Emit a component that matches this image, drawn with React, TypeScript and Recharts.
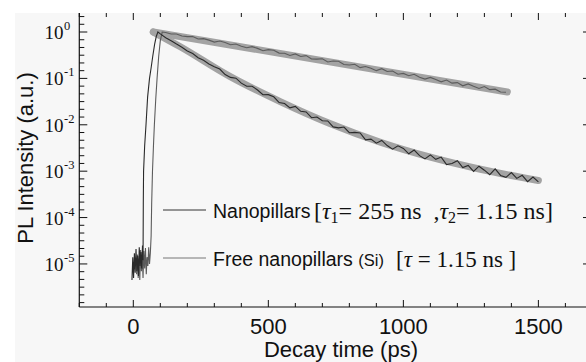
import React from "react";
import { LineChart, Line, XAxis, YAxis } from "recharts";

// Nanopillars (dark trace): rise + bi-exponential decay
const nanoTime = [
  -5, -2, 1, 4, 7, 10, 13, 16, 19, 22, 25, 28, 31, 34, 36, 37, 38, 42, 47, 53, 60, 66, 72, 79, 85, 91,
  100, 120, 140, 160, 180, 200, 220, 240, 260, 280, 300, 320, 340, 360, 380, 400, 420, 440, 460, 480,
  500, 520, 540, 560, 580, 600, 620, 640, 660, 680, 700, 720, 740, 760, 780, 800, 820, 840, 860, 880,
  900, 920, 940, 960, 980, 1000, 1020, 1040, 1060, 1080, 1100, 1120, 1140, 1160, 1180, 1200, 1220,
  1240, 1260, 1280, 1300, 1320, 1340, 1360, 1380, 1400, 1420, 1440, 1460, 1480, 1500,
];
const nanoIntensity = [
  4.5e-6, 1.4e-5, 5e-6, 1.7e-5, 6.5e-6, 2.1e-5, 7e-6, 1.5e-5, 5.5e-6, 2.3e-5, 9e-6, 1.8e-5, 8e-6, 2.5e-5,
  1.2e-5, 2e-4, 1e-3, 3.5e-3, 1e-2, 0.04, 0.1, 0.17, 0.3, 0.55, 0.8, 1.0,
  0.91, 0.75, 0.65, 0.55, 0.47, 0.39, 0.345, 0.28, 0.245, 0.205,
  0.179, 0.159, 0.121, 0.105, 0.101, 0.0789, 0.0676, 0.0675, 0.0563, 0.0445,
  0.0446, 0.0402, 0.0302, 0.0288, 0.0232, 0.0249, 0.0195, 0.0189, 0.0142, 0.0147,
  0.0122, 0.0121, 0.009, 0.00857, 0.00894, 0.00674, 0.00687, 0.00668, 0.00473, 0.0049,
  0.00402, 0.0046, 0.00357, 0.00298, 0.00352, 0.0031, 0.00237, 0.00286, 0.00216, 0.00184,
  0.00224, 0.0018, 0.00201, 0.00139, 0.00146, 0.00168, 0.0012, 0.00133, 0.000988, 0.00128,
  0.00105, 0.00084, 0.00112, 0.00081, 0.000737, 0.000935, 0.000698, 0.000815, 0.000595, 0.000748,
  0.000587,
];

// Free nanopillars (Si) (grey trace): rise + single exponential decay
const freeTime = [
  12, 15, 18, 21, 24, 27, 30, 33, 36, 39, 42, 45, 48, 51, 54, 57, 60, 63, 66, 68, 71, 75, 78, 83, 88,
  94, 100, 107,
  120, 140, 160, 180, 200, 220, 240, 260, 280, 300, 320, 340, 360, 380, 400, 420, 440, 460, 480, 500,
  520, 540, 560, 580, 600, 620, 640, 660, 680, 700, 720, 740, 760, 780, 800, 820, 840, 860, 880, 900,
  920, 940, 960, 980, 1000, 1020, 1040, 1060, 1080, 1100, 1120, 1140, 1160, 1180, 1200, 1220, 1240,
  1260, 1280, 1300, 1320, 1340, 1360, 1380,
];
const freeIntensity = [
  6e-6, 1.6e-5, 5e-6, 1.3e-5, 4.5e-6, 2e-5, 7e-6, 1.5e-5, 5e-6, 1.9e-5, 8e-6, 2.2e-5, 6e-6, 1.4e-5,
  9e-6, 2.3e-5, 1e-5, 1.7e-5, 4e-5, 2e-4, 1e-3, 4e-3, 1e-2, 0.035, 0.1, 0.3, 0.65, 1.0,
  0.98, 0.908, 0.909, 0.818, 0.797, 0.8, 0.705, 0.721, 0.668, 0.606, 0.641, 0.594, 0.533, 0.551,
  0.491, 0.459, 0.484, 0.444, 0.395, 0.417, 0.406, 0.351, 0.348, 0.313, 0.337, 0.297, 0.31, 0.262,
  0.261, 0.265, 0.226, 0.237, 0.234, 0.199, 0.194, 0.202, 0.171, 0.18, 0.166, 0.147, 0.162, 0.141,
  0.144, 0.123, 0.128, 0.114, 0.123, 0.106, 0.0967, 0.105, 0.0948, 0.0843, 0.0923, 0.0791, 0.0811,
  0.0692, 0.0761, 0.0677, 0.0607, 0.0668, 0.0572, 0.0586, 0.0509, 0.0502,
];

// fitted curves
const nanoFitTime = [74, 174, 359, 544, 730, 915, 1100, 1285, 1500];
const nanoFitIntensity = [1.0, 0.48, 0.109, 0.0316, 0.0105, 0.0042, 0.002, 0.0011, 0.00063];
const freeFitTime = [74, 1385];
const freeFitIntensity = [1.0, 0.051];

const xTicks = [-200, -100, 0, 100, 200, 300, 400, 500, 600, 700, 800, 900, 1000, 1100, 1200, 1300, 1400, 1500, 1600];
const xLabels = [0, 500, 1000, 1500];
const yExponents = [0, -1, -2, -3, -4, -5];

const PLOT_TOP = 13;
const PLOT_BOTTOM = 307;
const PLOT_RIGHT = 587;

const toRows = (ts: number[], vs: number[]) => ts.map((t, i) => ({ t, v: vs[i] }));

// minor log ticks every 1/6 decade
const yTicks: number[] = [];
for (let k = -35; k <= 2; k++) yTicks.push(Math.pow(10, k / 6));

const XTick = (props: any) => {
  const { x, payload } = props;
  const major = xLabels.includes(payload.value);
  const len = major ? 7 : 4;
  return (
    <g>
      <line x1={x} x2={x} y1={PLOT_BOTTOM} y2={PLOT_BOTTOM - len} stroke="#111" strokeWidth={1} />
      <line x1={x} x2={x} y1={PLOT_TOP} y2={PLOT_TOP + len} stroke="#111" strokeWidth={1} />
      {major && (
        <text x={x} y={PLOT_BOTTOM + 27} textAnchor="middle" fontFamily="Liberation Sans" fontSize={22} fill="#111">
          {payload.value}
        </text>
      )}
    </g>
  );
};

const YTick = (props: any) => {
  const { y, payload } = props;
  const e = Math.log10(payload.value);
  const exp = Math.round(e);
  const major = Math.abs(e - exp) < 1e-6 && yExponents.includes(exp);
  return (
    <g>
      <line x1={79.3} x2={79.3 + (major ? 8 : 5)} y1={y} y2={y} stroke="#111" strokeWidth={1} />
      {major && <line x1={PLOT_RIGHT - 4} x2={PLOT_RIGHT} y1={y} y2={y} stroke="#111" strokeWidth={1} />}
      {major && (
        <g fontFamily="Liberation Serif" fill="#111">
          <text x={63.5} y={y + 7} textAnchor="end" fontSize={19}>10</text>
          <text x={64} y={y - 2} textAnchor="start" fontSize={12.5}>{exp === 0 ? "0" : `-${-exp}`}</text>
        </g>
      )}
    </g>
  );
};

export default function App() {
  return (
    <div style={{ position: "absolute", left: 0, top: 0, width: 586, height: 362, overflow: "hidden", background: "#fff" }}>
      <div style={{ position: "absolute", left: 15, top: 13, width: 571, height: 349, background: "#f7f7f7" }} />
      <div style={{ position: "absolute", left: 0, top: 0 }}>
        <LineChart width={590} height={362} margin={{ top: PLOT_TOP, right: 3, left: 15, bottom: 0 }}>
          <XAxis
            dataKey="t"
            type="number"
            domain={[-200, 1680]}
            allowDataOverflow
            ticks={xTicks}
            interval={0}
            height={55}
            tickSize={0}
            tickMargin={0}
            tickLine={false}
            tick={<XTick />}
            axisLine={{ stroke: "#111", strokeWidth: 1.2 }}
          />
          <XAxis
            xAxisId="top"
            orientation="top"
            dataKey="t"
            type="number"
            domain={[-200, 1680]}
            allowDataOverflow
            height={0}
            tick={false}
            tickLine={false}
            axisLine={{ stroke: "#111", strokeWidth: 1.2 }}
          />
          <YAxis
            dataKey="v"
            type="number"
            scale="log"
            domain={[1.18e-6, 2.57]}
            allowDataOverflow
            ticks={yTicks}
            interval={0}
            width={64.3}
            tickSize={0}
            tickMargin={0}
            tickLine={false}
            tick={<YTick />}
            axisLine={{ stroke: "#111", strokeWidth: 1.2 }}
          />
          <Line
            data={toRows(freeFitTime, freeFitIntensity)}
            dataKey="v"
            type="linear"
            stroke="#a3a3a3"
            strokeWidth={7}
            strokeLinecap="round"
            dot={false}
            isAnimationActive={false}
          />
          <Line
            data={toRows(nanoFitTime, nanoFitIntensity)}
            dataKey="v"
            type="monotone"
            stroke="#a3a3a3"
            strokeWidth={7}
            strokeLinecap="round"
            dot={false}
            isAnimationActive={false}
          />
          <Line
            data={toRows(freeTime, freeIntensity)}
            dataKey="v"
            type="linear"
            stroke="#5c5c5c"
            strokeWidth={1.1}
            dot={false}
            isAnimationActive={false}
          />
          <Line
            data={toRows(nanoTime, nanoIntensity)}
            dataKey="v"
            type="linear"
            stroke="#2a2a2a"
            strokeWidth={1.1}
            dot={false}
            isAnimationActive={false}
          />
        </LineChart>
      </div>
      <svg width={586} height={362} style={{ position: "absolute", left: 0, top: 0, pointerEvents: "none" }}>
        <text
          transform="translate(33,158) rotate(-90)"
          textAnchor="middle"
          fontFamily="Liberation Sans"
          fontSize={22}
          fill="#111"
        >
          PL Intensity (a.u.)
        </text>
        <text x={341} y={357} textAnchor="middle" fontFamily="Liberation Sans" fontSize={22} fill="#111">
          Decay time (ps)
        </text>
        <line x1={163} x2={206} y1={210} y2={210} stroke="#333" strokeWidth={1} />
        <text x={213} y={218} fontFamily="Liberation Sans" fontSize={19.5} fill="#111">
          Nanopillars
        </text>
        <text x={314} y={219} fontFamily="Liberation Serif" fontSize={24} fill="#111" xmlSpace="preserve">
          [<tspan fontStyle="italic">τ</tspan>
          <tspan fontSize={16} dy={4}>1</tspan>
          <tspan dy={-4}>= 255 ns  ,</tspan>
          <tspan fontStyle="italic">τ</tspan>
          <tspan fontSize={16} dy={4}>2</tspan>
          <tspan dy={-4}>= 1.15 ns]</tspan>
        </text>
        <line x1={163} x2={206} y1={258} y2={258} stroke="#777" strokeWidth={1} />
        <text x={213} y={266} fontFamily="Liberation Sans" fontSize={19.5} fill="#111" xmlSpace="preserve">
          Free nanopillars <tspan fontSize={16.5}>(Si)</tspan>
        </text>
        <text x={396} y={267} fontFamily="Liberation Serif" fontSize={23} fill="#111" xmlSpace="preserve">
          [<tspan fontStyle="italic">τ</tspan> = 1.15 ns ]
        </text>
      </svg>
    </div>
  );
}
